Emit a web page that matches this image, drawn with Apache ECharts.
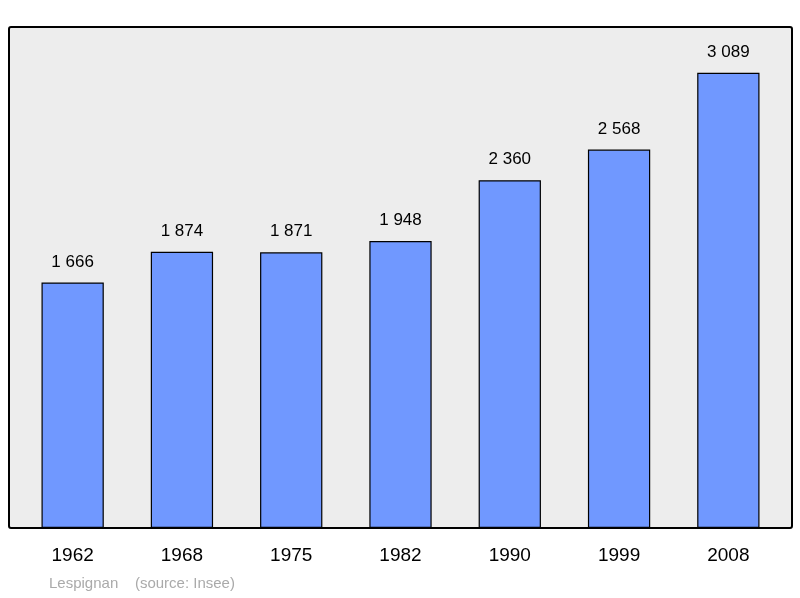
<!DOCTYPE html>
<html><head><meta charset="utf-8">
<script src="https://cdn.jsdelivr.net/npm/echarts@6/dist/echarts.min.js"></script>
<style>html,body{margin:0;padding:0;background:#fff}#c{width:800px;height:598px}</style>
</head><body><div id="c"></div>
<script>
var years = ['1962','1968','1975','1982','1990','1999','2008'];
var population = [1666, 1874, 1871, 1948, 2360, 2568, 3089];
var chart = echarts.init(document.getElementById('c'));
chart.setOption({
  animation: false,
  graphic: [
    {type:'rect', shape:{x:9,y:27,width:783,height:501,r:2}, style:{fill:'#ededed',stroke:'#000',lineWidth:2}, z:-10},
    {type:'text', left:49, top:576, style:{text:'Lespignan    (source: Insee)', fill:'#aaaaaa', font:'15px "Liberation Sans", Arial, sans-serif'}}
  ],
  grid: {left:18, right:17, top:27, bottom:70},
  xAxis: {type:'category', data:years, axisLine:{show:false}, axisTick:{show:false},
    axisLabel:{color:'#000', fontSize:19, margin:18, fontFamily:'Liberation Sans'}},
  yAxis: {type:'value', min:0, max:3400, show:false, splitLine:{show:false}},
  series: [{type:'bar', data:population, barWidth:'57%',
    itemStyle:{color:'#7098ff', borderColor:'#000', borderWidth:1.2},
    label:{show:true, position:'top', distance:12, color:'#000', fontSize:17, fontFamily:'Liberation Sans',
      formatter:function(p){return String(p.value).replace(/\B(?=(\d{3})+(?!\d))/g,' ');}}}]
});
</script></body></html>
